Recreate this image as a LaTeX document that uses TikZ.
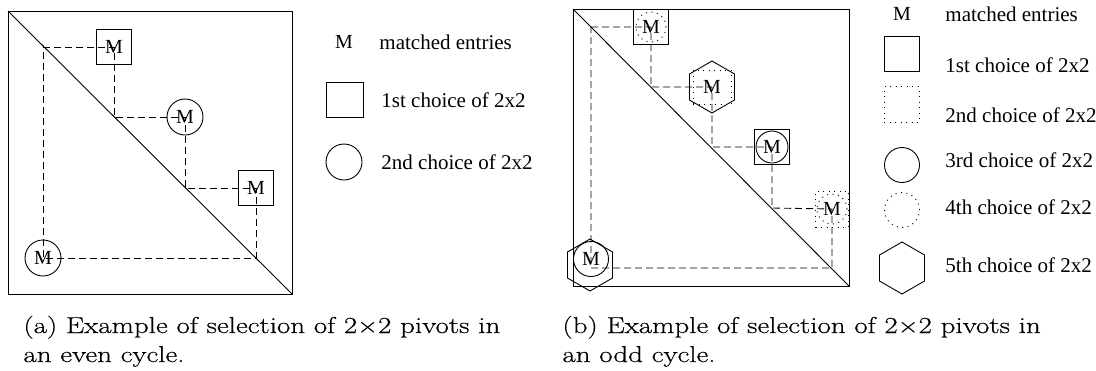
\documentclass[tikz,border=0pt]{standalone}
\usepackage{fontspec}
\usepackage{amsmath}
\usepackage{tikz}
\usetikzlibrary{shapes.geometric, positioning}
\newfontfamily\timesfont{Liberation Serif}
\newfontfamily\captfont[FakeStretch=1.26, FakeBold=0.5]{Latin Modern Roman}

\begin{document}
\begin{tikzpicture}[
			x=1pt, y=-1pt,
			line width=0.9pt,
			every node/.style={font=\timesfont\fontsize{20}{24}\selectfont, inner sep=0pt},
			sq/.style={rectangle, draw, minimum size=35pt},
			dotline/.style={dash pattern=on 1pt off 4.5pt},
			dsq/.style={sq, dotline},
			circ/.style={circle, draw, minimum size=36pt},
			dcirc/.style={circ, dotline},
			hex/.style={
				regular polygon, regular polygon sides=6,
				shape border rotate=30, draw, minimum size=52pt
			},
			loopline/.style={dash pattern=on 7pt off 4pt},
			legend/.style={anchor=west, font=\timesfont\fontsize{21}{25}\selectfont},
			capt/.style={anchor=base west, font=\captfont\fontsize{23}{30}\selectfont}
			]
			\useasboundingbox (0,0) rectangle (1096,370);
			
			% (a) even cycle
			\draw (8,11) rectangle (292,294);
			\draw (8,11) -- (292,294);
			
			\coordinate (ad1) at (43,47);
			\coordinate (ad2) at (114,117);
			\coordinate (ad3) at (185,188);
			\coordinate (ad4) at (256,258);
			
			\node[sq] (a1) at (114,47) {M};
			\node[circ] (a2) at (185,117) {M};
			\node[sq] (a3) at (256,188) {M};
			\node[circ] (a4) at (43,258) {M};
			
			\draw[loopline] (ad1) -- (a1.center) -- (ad2) -- (a2.center) -- (ad3)
				-- (a3.center) -- (ad4) -- (a4.center) -- cycle;
			
			\node (am) at (344,42) {M};
			\node[legend] (amtxt) at (379,42) {matched entries};
			\node[sq, minimum width=37pt] (asq) at (344.5,99.5) {};
			\node[legend] (asqtxt) at (381,100) {1st choice of 2x2};
			\node[circ] (acirc) at (344,162) {};
			\node[legend] (acirctxt) at (381,162) {2nd choice of 2x2};
			
			% (b) odd cycle
			\draw (573,9) rectangle (849,286);
			\draw (573,9) -- (849,286);
			
			\coordinate (bd1) at (591,27);
			\coordinate (bd2) at (651,87);
			\coordinate (bd3) at (712,147);
			\coordinate (bd4) at (772,208);
			\coordinate (bd5) at (832,268);
			\coordinate (bk5) at (591,268);
			
			\node[sq] (b1) at (651,27) {M};
			\node[dcirc, minimum size=30pt] (b1in) at (b1) {};
			\node[hex] (b2) at (712,87) {M};
			\node[dsq, minimum width=38pt, minimum height=34pt] (b2in) at (b2) {};
			\node[sq] (b3) at (772,147) {M};
			\node[circ, minimum size=32pt] (b3in) at (b3) {};
			\node[dsq, minimum width=33pt, minimum height=36pt] (b4) at (832,209) {M};
			\node[dcirc, minimum size=30pt] (b4in) at (b4) {};
			\node[hex] (b5) at (590,265) {};
			\node[circ, minimum size=35pt] (b5in) at (591,259) {M};
			
			\draw[loopline] (bd1) -- (b1.center) -- (bd2) -- (b2.center) -- (bd3)
				-- (b3.center) -- (bd4) -- (b4.center) -- (bd5) -- (bk5) -- cycle;
			
			\node (bm) at (902,14) {M};
			\node[legend] (bmtxt) at (945,14) {matched entries};
			\node[sq] (bsq) at (901.5,53.5) {};
			\node[legend] (bsqtxt) at (945,65) {1st choice of 2x2};
			\node[dsq, minimum height=36pt] (bdsq) at (901.5,104.5) {};
			\node[legend] (bdsqtxt) at (945,115) {2nd choice of 2x2};
			\node[circ, minimum size=35pt] (bcirc) at (902,165) {};
			\node[legend] (bcirctxt) at (945,160) {3rd choice of 2x2};
			\node[dcirc, minimum size=35pt] (bdcirc) at (902,210) {};
			\node[legend] (bdcirctxt) at (945,207) {4th choice of 2x2};
			\node[hex] (bhex) at (902,268) {};
			\node[legend] (bhextxt) at (945,265) {5th choice of 2x2};
			
			% captions
			\node[capt] (capa) at (23,333) {(a) Example of selection of 2×2 pivots in};
			\node[capt] (capa2) at (23,362) {an even cycle.};
			\node[capt] (capb) at (562,333) {(b) Example of selection of 2×2 pivots in};
			\node[capt] (capb2) at (562,362) {an odd cycle.};
		\end{tikzpicture}
\end{document}
